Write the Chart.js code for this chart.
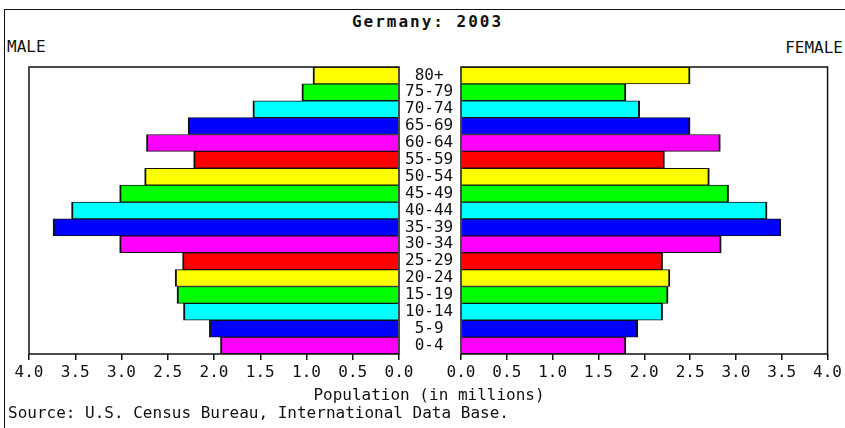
<!DOCTYPE html>
<html>
<head>
<meta charset="utf-8">
<script src="https://cdn.jsdelivr.net/npm/chart.js@4/dist/chart.umd.min.js"></script>
<style>
  html, body { margin: 0; padding: 0; background: #fff; }
  #wrap { position: relative; width: 845px; height: 428px; overflow: hidden; font-family: "DejaVu Sans Mono", monospace; color: #111; }
  #outer { position: absolute; left: 4px; top: 9px; width: 900px; height: 500px; border-top: 1.5px solid #111; border-left: 1.5px solid #111; }
  canvas { position: absolute; left: 0; top: 0; }
  .txt { position: absolute; font-size: 16px; white-space: nowrap; line-height: 16px; }
  #title { left: 0; width: 855px; text-align: center; top: 14px; font-weight: bold; letter-spacing: 2px; }
  #male { left: 7px; top: 39px; }
  #female { right: 2px; top: 40px; }
  #xtitle { left: 0; width: 858px; text-align: center; top: 387px; }
  #source { left: 8px; top: 405px; }
</style>
</head>
<body>
<div id="wrap">
  <div id="outer"></div>
  <div class="txt" id="title">Germany: 2003</div>
  <div class="txt" id="male">MALE</div>
  <div class="txt" id="female">FEMALE</div>
  <canvas id="cm" width="845" height="428"></canvas>
  <canvas id="cf" width="845" height="428"></canvas>
  <div class="txt" id="xtitle">Population (in millions)</div>
  <div class="txt" id="source">Source: U.S. Census Bureau, International Data Base.</div>
</div>
<script>
// Age groups, bottom to top
const ageGroups = ['0-4','5-9','10-14','15-19','20-24','25-29','30-34','35-39','40-44','45-49','50-54','55-59','60-64','65-69','70-74','75-79','80+'];
// Population in millions
const maleValues   = [1.93, 2.05, 2.33, 2.40, 2.42, 2.34, 3.02, 3.74, 3.54, 3.02, 2.75, 2.22, 2.73, 2.28, 1.58, 1.05, 0.93];
const femaleValues = [1.80, 1.93, 2.20, 2.26, 2.28, 2.20, 2.84, 3.49, 3.34, 2.92, 2.71, 2.22, 2.83, 2.50, 1.95, 1.80, 2.50];
const xTickStep = 0.5;
const xMax = 4;
const palette = ['#FF00FF', '#0000FF', '#00FFFF', '#00FF00', '#FFFF00', '#FF0000'];
const barColors = ageGroups.map((_, i) => palette[i % palette.length]);

const FONT = { family: '"DejaVu Sans Mono", monospace', size: 16 };

const framePlugin = {
  id: 'frame',
  afterDatasetsDraw(chart) {
    const { ctx, chartArea: a } = chart;
    ctx.save();
    ctx.strokeStyle = '#111';
    ctx.lineWidth = 1.5;
    ctx.strokeRect(a.left, a.top, a.right - a.left, a.bottom - a.top);
    ctx.restore();
  }
};

function makeChart(id, values, isMale) {
  return new Chart(document.getElementById(id), {
    type: 'bar',
    data: {
      labels: ageGroups,
      datasets: [{
        data: values,
        backgroundColor: barColors,
        borderColor: '#111',
        borderWidth: { top: 1, bottom: 1, left: 2, right: 2 },
        borderSkipped: 'start',
        barPercentage: 1,
        categoryPercentage: 1
      }]
    },
    options: {
      indexAxis: 'y',
      responsive: false,
      animation: false,
      events: [],
      layout: {
        padding: isMale ? { left: 29, right: 384, top: 67, bottom: 0 }
                        : { left: 461, right: 15, top: 67, bottom: 0 }
      },
      plugins: { legend: { display: false }, tooltip: { enabled: false }, title: { display: false } },
      scales: {
        x: {
          type: 'linear',
          min: 0,
          max: xMax,
          reverse: isMale,
          afterFit: s => { s.height = 74; },
          border: { display: false },
          grid: { drawOnChartArea: false, drawTicks: true, tickLength: 6, color: '#111', lineWidth: 1.5 },
          ticks: {
            stepSize: xTickStep,
            autoSkip: false,
            maxRotation: 0,
            padding: 3,
            color: '#111',
            font: FONT,
            callback: v => Number(v).toFixed(1)
          }
        },
        y: {
          type: 'category',
          reverse: true,
          position: 'right',
          display: isMale,
          afterFit: s => { s.width = isMale ? 62 : 0; },
          border: { display: false },
          grid: { display: false, drawTicks: false },
          ticks: {
            crossAlign: 'center',
            padding: 6,
            autoSkip: false,
            color: '#111',
            font: FONT
          }
        }
      }
    },
    plugins: [framePlugin]
  });
}

makeChart('cm', maleValues, true);
makeChart('cf', femaleValues, false);
</script>
</body>
</html>
